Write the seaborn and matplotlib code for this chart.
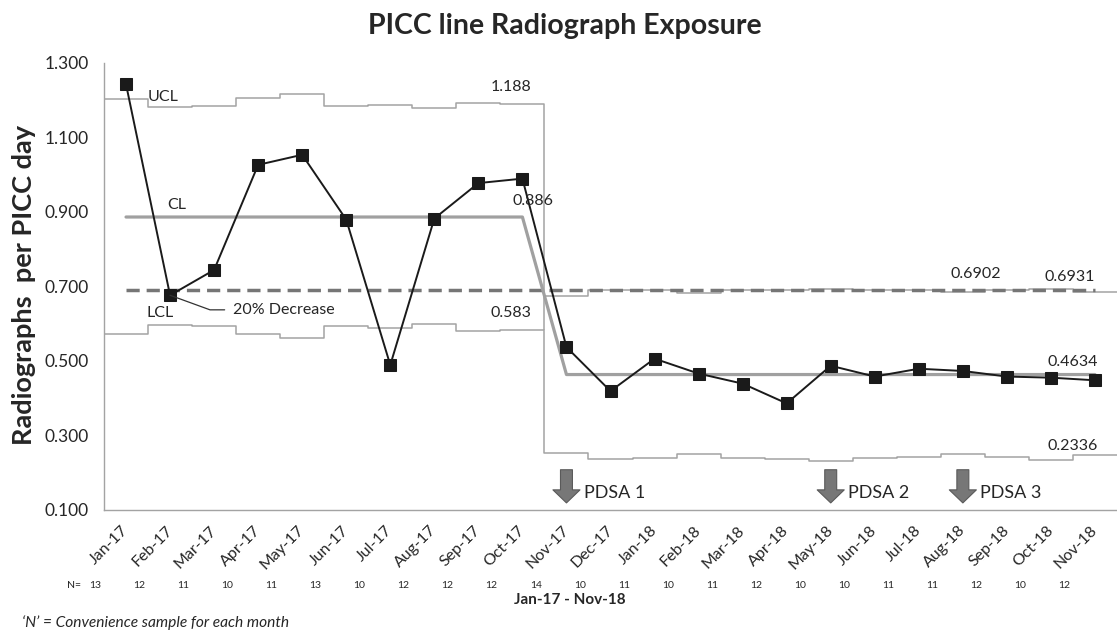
import numpy as np
import pandas as pd
import matplotlib
matplotlib.use("Agg")
import matplotlib.pyplot as plt
import matplotlib.transforms as mtransforms
import seaborn as sns

months = [
    "Jan-17", "Feb-17", "Mar-17", "Apr-17", "May-17", "Jun-17", "Jul-17",
    "Aug-17", "Sep-17", "Oct-17", "Nov-17", "Dec-17", "Jan-18", "Feb-18",
    "Mar-18", "Apr-18", "May-18", "Jun-18", "Jul-18", "Aug-18", "Sep-18",
    "Oct-18", "Nov-18",
]
rate = [1.242, 0.676, 0.744, 1.026, 1.053, 0.879, 0.489, 0.882, 0.977, 0.989,
        0.537, 0.419, 0.506, 0.466, 0.439, 0.386, 0.487, 0.458, 0.479, 0.473,
        0.458, 0.455, 0.448]
cl = [0.886, 0.886, 0.886, 0.886, 0.886, 0.886, 0.886, 0.886, 0.886, 0.886,
      0.4634, 0.4634, 0.4634, 0.4634, 0.4634, 0.4634, 0.4634, 0.4634, 0.4634,
      0.4634, 0.4634, 0.4634, 0.4634]
ucl = [1.203, 1.180, 1.183, 1.206, 1.215, 1.183, 1.187, 1.178, 1.193, 1.188,
       0.675, 0.690, 0.690, 0.681, 0.690, 0.690, 0.694, 0.690, 0.690, 0.684,
       0.6902, 0.6931, 0.684]
lcl = [0.573, 0.597, 0.593, 0.571, 0.562, 0.594, 0.589, 0.598, 0.580, 0.583,
       0.254, 0.237, 0.240, 0.251, 0.239, 0.236, 0.232, 0.239, 0.242, 0.249,
       0.241, 0.2336, 0.247]
target = [0.69] * len(months)  # 20% decrease goal
n_sample = [13, 12, 11, 10, 11, 13, 10, 12, 12, 12, 14,
            10, 11, 10, 11, 12, 10, 10, 11, 11, 12, 10, 12]
pdsa = {"PDSA 1": "Nov-17", "PDSA 2": "May-18", "PDSA 3": "Aug-18"}

sns.set_style("white")
plt.rcParams["font.family"] = ["Lato", "DejaVu Sans"]
TXT = "#262626"
GRAY = "#a3a3a3"

df = pd.DataFrame({"idx": np.arange(len(months)), "rate": rate, "cl": cl, "target": target})
edges = np.arange(len(months) + 1) - 0.5
steps = pd.DataFrame({"x": edges, "ucl": ucl + ucl[-1:], "lcl": lcl + lcl[-1:]})

fig = plt.figure(figsize=(11.17, 6.31), dpi=100)
ax = fig.add_axes([104 / 1117, 1 - 510 / 631, 1013 / 1117, 447.3 / 631])

sns.lineplot(data=steps, x="x", y="ucl", ax=ax, color=GRAY, lw=1.1,
             drawstyle="steps-post", estimator=None)
sns.lineplot(data=steps, x="x", y="lcl", ax=ax, color=GRAY, lw=1.1,
             drawstyle="steps-post", estimator=None)
ax.vlines(9.5, lcl[9], ucl[10], color=GRAY, lw=1.1)
sns.lineplot(data=df, x="idx", y="target", ax=ax, color="#767676", lw=2.5,
             linestyle=(0, (3.8, 2)))
sns.lineplot(data=df, x="idx", y="cl", ax=ax, color="#a0a0a0", lw=2.3)
sns.lineplot(data=df, x="idx", y="rate", ax=ax, color="#1a1a1a", lw=1.4,
             marker="s", markersize=8.5, markeredgecolor="#1a1a1a")

ax.set_xlim(-0.5, 22.26)
ax.set_ylim(0.1, 1.3)
ax.set_yticks(np.arange(0.1, 1.31, 0.2))
ax.yaxis.set_major_formatter(matplotlib.ticker.FormatStrFormatter("%.3f"))
ax.set_xticks(edges)
ax.set_xticklabels([])
ax.set_xticks(np.arange(len(months)), minor=True)
ax.set_xticklabels(months, minor=True, rotation=45, ha="right", va="center",
                   rotation_mode="anchor")
ax.tick_params(axis="x", which="major", length=6, color=GRAY, direction="out")
ax.tick_params(axis="x", which="minor", length=0, pad=13, labelsize=11.5, labelcolor=TXT)
ax.tick_params(axis="y", length=5, color=GRAY, direction="out", labelsize=12.5,
               labelcolor=TXT, pad=6)
ax.set_xlabel("")
ax.set_ylabel("")
for s in ["top", "right"]:
    ax.spines[s].set_visible(False)
for s in ["left", "bottom"]:
    ax.spines[s].set_color(GRAY)
    ax.spines[s].set_linewidth(1.0)

lab = dict(fontsize=11.5, color=TXT)
ax.text(0.49, 1.209, "UCL", ha="left", va="center", **lab)
ax.text(0.94, 0.918, "CL", ha="left", va="center", **lab)
ax.text(0.47, 0.628, "LCL", ha="left", va="center", **lab)
ax.text(8.74, 1.234, "1.188", ha="center", va="center", **lab)
ax.text(9.24, 0.930, "0.886", ha="center", va="center", **lab)
ax.text(8.74, 0.628, "0.583", ha="center", va="center", **lab)
ax.text(19.3, 0.734, "0.6902", ha="center", va="center", **lab)
ax.text(21.43, 0.726, "0.6931", ha="center", va="center", **lab)
ax.text(21.5, 0.498, "0.4634", ha="center", va="center", **lab)
ax.text(21.5, 0.272, "0.2336", ha="center", va="center", **lab)

ax.annotate("20% Decrease", xy=(1, rate[1]), xytext=(2.44, 0.637),
            ha="left", va="center", fontsize=11.5, color=TXT,
            arrowprops=dict(arrowstyle="-", color="#333333", lw=0.9,
                            shrinkA=4, shrinkB=0,
                            connectionstyle="angle,angleA=0,angleB=-20,rad=0"))

for name, m in pdsa.items():
    i = months.index(m)
    ax.annotate("", xy=(i, 0.119), xytext=(i, 0.208),
                arrowprops=dict(arrowstyle="simple,head_length=0.94,head_width=1.95,tail_width=0.86",
                                fc="#777777", ec="#5a5a5a", lw=0.8, mutation_scale=10,
                                shrinkA=0, shrinkB=0))
    ax.text(i + 0.39, 0.146, name, ha="left", va="center", fontsize=13, color=TXT)

trans = mtransforms.blended_transform_factory(ax.transData, fig.transFigure)
fig.text(74 / 1117, 1 - 585 / 631, "N=", ha="center", va="center", fontsize=7.5, color=TXT)
for i, n in enumerate(n_sample):
    ax.text(i - 0.7, 1 - 585 / 631, str(n), transform=trans, ha="center",
            va="center", fontsize=7.5, color=TXT, clip_on=False)

fig.text(570 / 1117, 1 - 600 / 631, "Jan-17 - Nov-18", ha="center", va="center",
         fontsize=11, fontweight="bold", color=TXT)
fig.text(22 / 1117, 1 - 623 / 631, "\u2018N\u2019 = Convenience sample for each month",
         ha="left", va="center", fontsize=11.2, style="italic", color=TXT)
fig.text(24 / 1117, 1 - 285 / 631, "Radiographs  per PICC day", rotation=90,
         ha="center", va="center", fontsize=19.5, fontweight="bold", color=TXT)
fig.text(565 / 1117, 1 - 26 / 631, "PICC line Radiograph Exposure", ha="center",
         va="center", fontsize=20.5, fontweight="bold", color=TXT)

fig.savefig("out.png", dpi=100)
